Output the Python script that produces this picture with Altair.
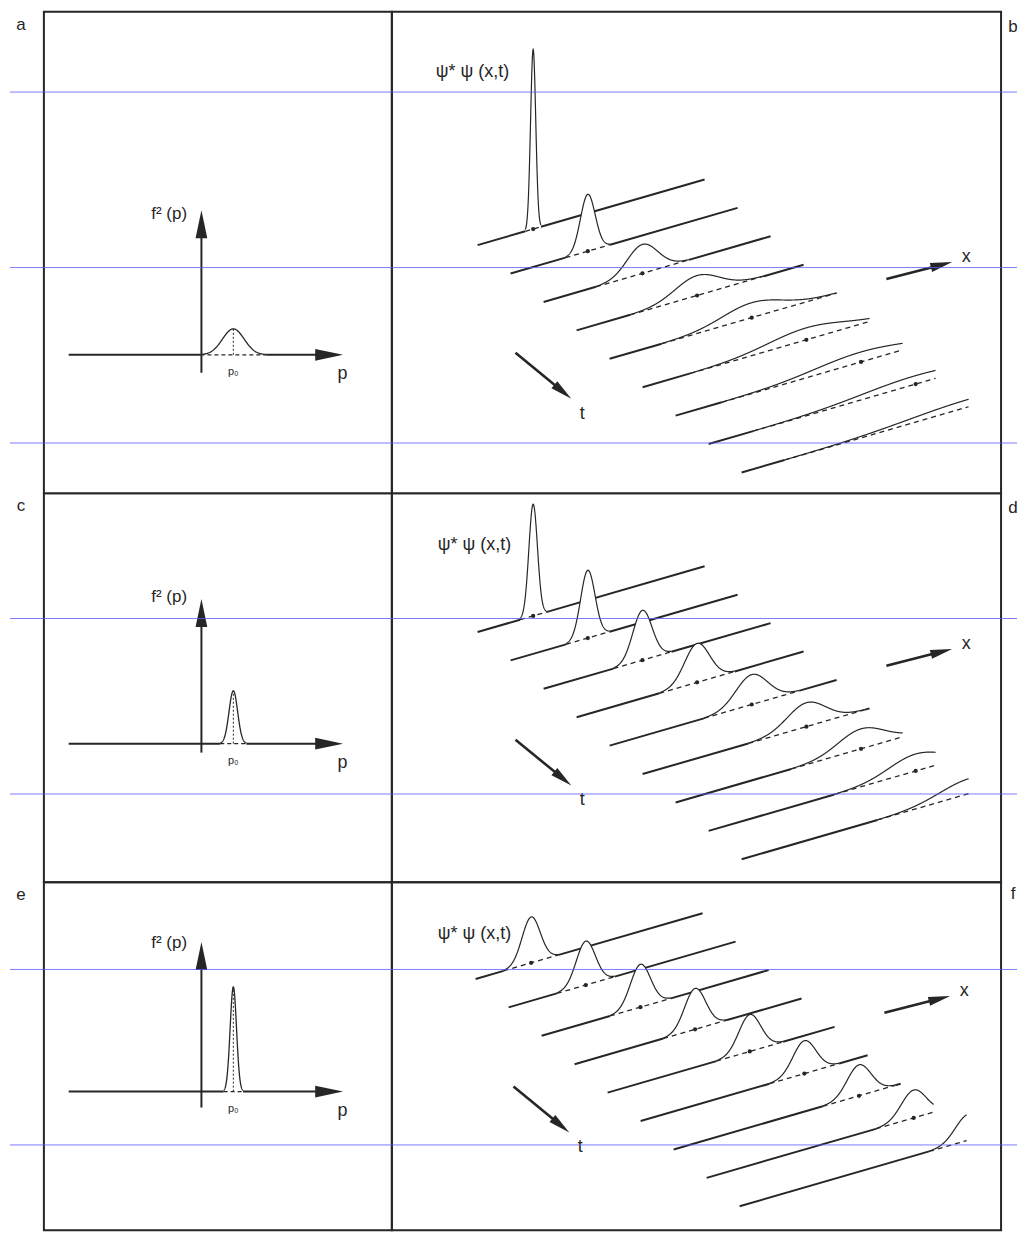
import math
import numpy as np
import pandas as pd
import altair as alt

INK = "#262626"
GUIDE = "#5b5bff"
FONT = "Liberation Sans, DejaVu Sans, sans-serif"

# ------------------------------------------------------------------ data
left_letters = ["a", "c", "e"]
right_letters = ["b", "d", "f"]

# momentum distributions f^2(p)  (p in units of p0)
p0 = 1.0
mom_peak = [0.26, 0.53, 1.05]
mom_sigma = [0.34, 0.135, 0.10]
mom_axis_top = [1.45, 1.45, 1.50]
mom_axis_bottom = [-0.18, -0.09, -0.16]
mom_label_y = [1.41, 1.47, 1.49]
p_axis_left, p_axis_tip = -4.16, 4.44

# wave packets psi*psi(x,t) on nine successive time lines
n_lines = 9
b_height = [180, 57, 29, 20, 15, 12, 10, 8.5, 7.5]
b_sigma = [2.7, 7.7, 16, 23, 31, 40, 48, 56, 64]
d_height = [112, 68, 50, 39, 30, 24, 20, 17, 15]
d_sigma = [4.5, 7.5, 10, 13, 16.5, 20, 24, 28, 32]
f_height = [46, 44, 43, 41, 37, 33, 31, 28, 26]
f_sigma = [9.5, 10, 10.5, 11, 11.5, 12, 12.5, 13, 13.5]
packet_height = {"b": b_height, "d": d_height, "f": f_height}
packet_sigma = {"b": b_sigma, "d": d_sigma, "f": f_sigma}

# perspective drawing of the (x, t) plane, in pixels of each panel
line_origin = {"b": (86, 234), "d": (86, 139), "f": (84, 97)}
psi_label_pos = {"b": (44, 60), "d": (46, 52), "f": (46, 52)}
line_step = (33.1, 28.5)
line_dir = (0.9605, -0.278)
line_len = 237.0
centre_u0, centre_du = 58.0, 22.6
x_arrow = ((410, 34), (476, 17))
t_arrow = ((38, 108), (94, 154))

guide_page_y = [90, 266, 442, 618, 794, 970, 1146]

ROW_TOP = [10, 493, 883]
ROW_H = [483, 390, 349]
LEFT_W, RIGHT_W = 349, 611
PX_P, PX_F = 32.0, 100.0
ORIGIN_X, BASE_FROM_BOTTOM = 158.0, 139.0

HEAD = "M1,0L-1,-0.42L-1,0.42Z"


def scales(xdom, ydom):
    sx = alt.Scale(domain=xdom, nice=False, zero=False)
    sy = alt.Scale(domain=ydom, nice=False, zero=False)
    X = lambda f: alt.X(f, type="quantitative", scale=sx, axis=None)
    Y = lambda f: alt.Y(f, type="quantitative", scale=sy, axis=None)
    X2 = lambda f: alt.X2(f)
    Y2 = lambda f: alt.Y2(f)
    return X, Y, X2, Y2


def text_layer(df, X, Y, align):
    return alt.Chart(df).mark_text(font=FONT, color=INK, align=align, baseline="middle").encode(
        x=X("x"), y=Y("y"), text=alt.Text("t:N"), size=alt.Size("fs:Q", scale=None))


def rule_layer(df, X, Y, X2, Y2, **kw):
    return alt.Chart(df).mark_rule(color=INK, **kw).encode(
        x=X("x"), y=Y("y"), x2=X2("x2"), y2=Y2("y2"))


def head_layer(df, X, Y):
    return alt.Chart(df).mark_point(shape=HEAD, filled=True, color=INK, opacity=1, strokeWidth=0).encode(
        x=X("x"), y=Y("y"), angle=alt.Angle("ang:Q", scale=None), size=alt.Size("sz:Q", scale=None))


def left_panel(i):
    H = ROW_H[i]
    xdom = [-ORIGIN_X / PX_P, (LEFT_W - ORIGIN_X) / PX_P]
    ydom = [-BASE_FROM_BOTTOM / PX_F, (H - BASE_FROM_BOTTOM) / PX_F]
    X, Y, X2, Y2 = scales(xdom, ydom)
    pk, sg = mom_peak[i], mom_sigma[i]
    lo, hi = p0 - 3.03 * sg, p0 + 3.03 * sg
    p = np.linspace(lo, hi, 161)
    curve = pd.DataFrame({"x": p, "y": pk * np.exp(-(p - p0) ** 2 / (2 * sg * sg))})
    head_half = 14.0
    hx = head_half / PX_P
    hy = head_half / PX_F
    top = mom_axis_top[i]
    solid = pd.DataFrame({
        "x": [p_axis_left, hi, 0.0],
        "y": [0.0, 0.0, mom_axis_bottom[i]],
        "x2": [lo, p_axis_tip - hx, 0.0],
        "y2": [0.0, 0.0, top - hy],
    })
    dashed = pd.DataFrame({"x": [lo], "y": [0.0], "x2": [hi], "y2": [0.0]})
    dotted = pd.DataFrame({"x": [p0], "y": [0.0], "x2": [p0], "y2": [pk]})
    heads = pd.DataFrame({
        "x": [p_axis_tip - hx, 0.0],
        "y": [0.0, top - hy],
        "ang": [0.0, 270.0],
        "sz": [(2 * head_half) ** 2] * 2,
    })
    txt_c = pd.DataFrame({
        "x": [p0, 4.42, (19 - 42 - ORIGIN_X) / PX_P],
        "y": [-0.175, -0.19, (H - BASE_FROM_BOTTOM - 13) / PX_F],
        "t": ["p₀", "p", left_letters[i]],
        "fs": [11, 18, 17],
    })
    txt_r = pd.DataFrame({"x": [-0.45], "y": [mom_label_y[i]], "t": ["f² (p)"], "fs": [17]})
    layers = [
        rule_layer(solid, X, Y, X2, Y2, strokeWidth=2),
        rule_layer(dashed, X, Y, X2, Y2, strokeWidth=1.3, strokeDash=[4, 3]),
        rule_layer(dotted, X, Y, X2, Y2, strokeWidth=1, strokeDash=[2, 2]),
        alt.Chart(curve).mark_line(color=INK, strokeWidth=1.3).encode(x=X("x"), y=Y("y")),
        head_layer(heads, X, Y),
        text_layer(txt_c, X, Y, "center"),
        text_layer(txt_r, X, Y, "right"),
    ]
    return alt.layer(*layers).properties(width=LEFT_W, height=H)


def right_panel(i):
    key = right_letters[i]
    H = ROW_H[i]
    X, Y, X2, Y2 = scales([0, RIGHT_W], [H, 0])
    ox, oy = line_origin[key]

    def proj(k, u, h=0.0):
        return (ox + k * line_step[0] + u * line_dir[0],
                oy + k * line_step[1] + u * line_dir[1] - h)

    curve_rows, solid_rows, dash_rows, dot_rows = [], [], [], []
    for k in range(n_lines):
        c = centre_u0 + centre_du * k
        h0, sg = packet_height[key][k], packet_sigma[key][k]
        lo, hi = max(0.0, c - 3.03 * sg), min(line_len, c + 3.03 * sg)
        n = int((hi - lo) / 0.25) + 2
        for u in np.linspace(lo, hi, n):
            h = h0 * math.exp(-(u - c) ** 2 / (2 * sg * sg))
            xx, yy = proj(k, u, h)
            _, yb = proj(k, u)
            curve_rows.append({"k": k, "u": u, "x": xx, "y": yy, "yb": yb})
        for a, b in [(0.0, lo), (hi, line_len)]:
            if b - a > 0.5:
                x1, y1 = proj(k, a)
                x2, y2 = proj(k, b)
                solid_rows.append({"k": k, "x": x1, "y": y1, "x2": x2, "y2": y2})
        x1, y1 = proj(k, lo)
        x2, y2 = proj(k, hi)
        dash_rows.append({"k": k, "x": x1, "y": y1, "x2": x2, "y2": y2})
        if c <= line_len:
            xx, yy = proj(k, c)
            dot_rows.append({"k": k, "x": xx, "y": yy})
    curve = pd.DataFrame(curve_rows)
    solid = pd.DataFrame(solid_rows)
    dash = pd.DataFrame(dash_rows)
    dots = pd.DataFrame(dot_rows)

    layers = []
    for k in range(n_lines):
        flt = alt.datum.k == k
        layers += [
            alt.Chart(curve).transform_filter(flt).mark_area(color="white", opacity=1).encode(
                x=X("x"), y=Y("y"), y2=Y2("yb")),
            alt.Chart(dash).transform_filter(flt).mark_rule(color=INK, strokeWidth=1.3, strokeDash=[5, 4]).encode(
                x=X("x"), y=Y("y"), x2=X2("x2"), y2=Y2("y2")),
            alt.Chart(solid).transform_filter(flt).mark_rule(color=INK, strokeWidth=2).encode(
                x=X("x"), y=Y("y"), x2=X2("x2"), y2=Y2("y2")),
            alt.Chart(curve).transform_filter(flt).mark_line(color=INK, strokeWidth=1.2).encode(
                x=X("x"), y=Y("y"), order=alt.Order("u:Q")),
            alt.Chart(dots).transform_filter(flt).mark_point(filled=True, color=INK, size=18, opacity=1).encode(
                x=X("x"), y=Y("y")),
        ]

    # direction arrows
    head_half = 11.0
    shafts, heads = [], []
    for (s, e) in [x_arrow, t_arrow]:
        sx, sy = ox + s[0], oy + s[1]
        ex, ey = ox + e[0], oy + e[1]
        L = math.hypot(ex - sx, ey - sy)
        ux, uy = (ex - sx) / L, (ey - sy) / L
        shafts.append({"x": sx, "y": sy, "x2": ex - ux * 1.6 * head_half, "y2": ey - uy * 1.6 * head_half})
        ang = math.degrees(math.atan2(uy, ux)) % 360
        heads.append({"x": ex - ux * head_half, "y": ey - uy * head_half, "ang": ang, "sz": (2 * head_half) ** 2})
    layers.append(rule_layer(pd.DataFrame(shafts), X, Y, X2, Y2, strokeWidth=2.6))
    layers.append(head_layer(pd.DataFrame(heads), X, Y))

    xe = (ox + x_arrow[1][0], oy + x_arrow[1][1])
    te = (ox + t_arrow[1][0], oy + t_arrow[1][1])
    lx, ly = psi_label_pos[key]
    txt_c = pd.DataFrame({
        "x": [xe[0] + 14, te[0] + 11, 623],
        "y": [xe[1] - 5, te[1] + 15, 15 if i < 2 else 12],
        "t": ["x", "t", key],
        "fs": [18, 18, 17],
    })
    txt_l = pd.DataFrame({"x": [lx], "y": [ly], "t": ["ψ* ψ (x,t)"], "fs": [18]})
    layers.append(text_layer(txt_c, X, Y, "center"))
    layers.append(text_layer(txt_l, X, Y, "left"))

    # faint ruled guide lines crossing the whole page (half-pixel offset keeps them crisp)
    g = [y - ROW_TOP[i] + 0.5 for y in guide_page_y if ROW_TOP[i] < y < ROW_TOP[i] + H]
    guides = pd.DataFrame({"x": [-383.0] * len(g), "y": g, "x2": [627.0] * len(g), "y2": g})
    layers.append(alt.Chart(guides).mark_rule(color=GUIDE, strokeWidth=1, opacity=0.8).encode(
        x=X("x"), y=Y("y"), x2=X2("x2"), y2=Y2("y2")))
    return alt.layer(*layers).properties(width=RIGHT_W, height=H)


panels = []
for i in range(3):
    panels.append(left_panel(i))
    panels.append(right_panel(i))

chart = alt.concat(*panels, columns=2, spacing=0).properties(
    bounds="flush",
    padding={"left": 0, "top": 1, "right": 0, "bottom": 0},
    background="white",
).configure_view(stroke=INK, strokeWidth=2)

chart.save("out.html", embed_options={"renderer": "svg", "actions": False})
